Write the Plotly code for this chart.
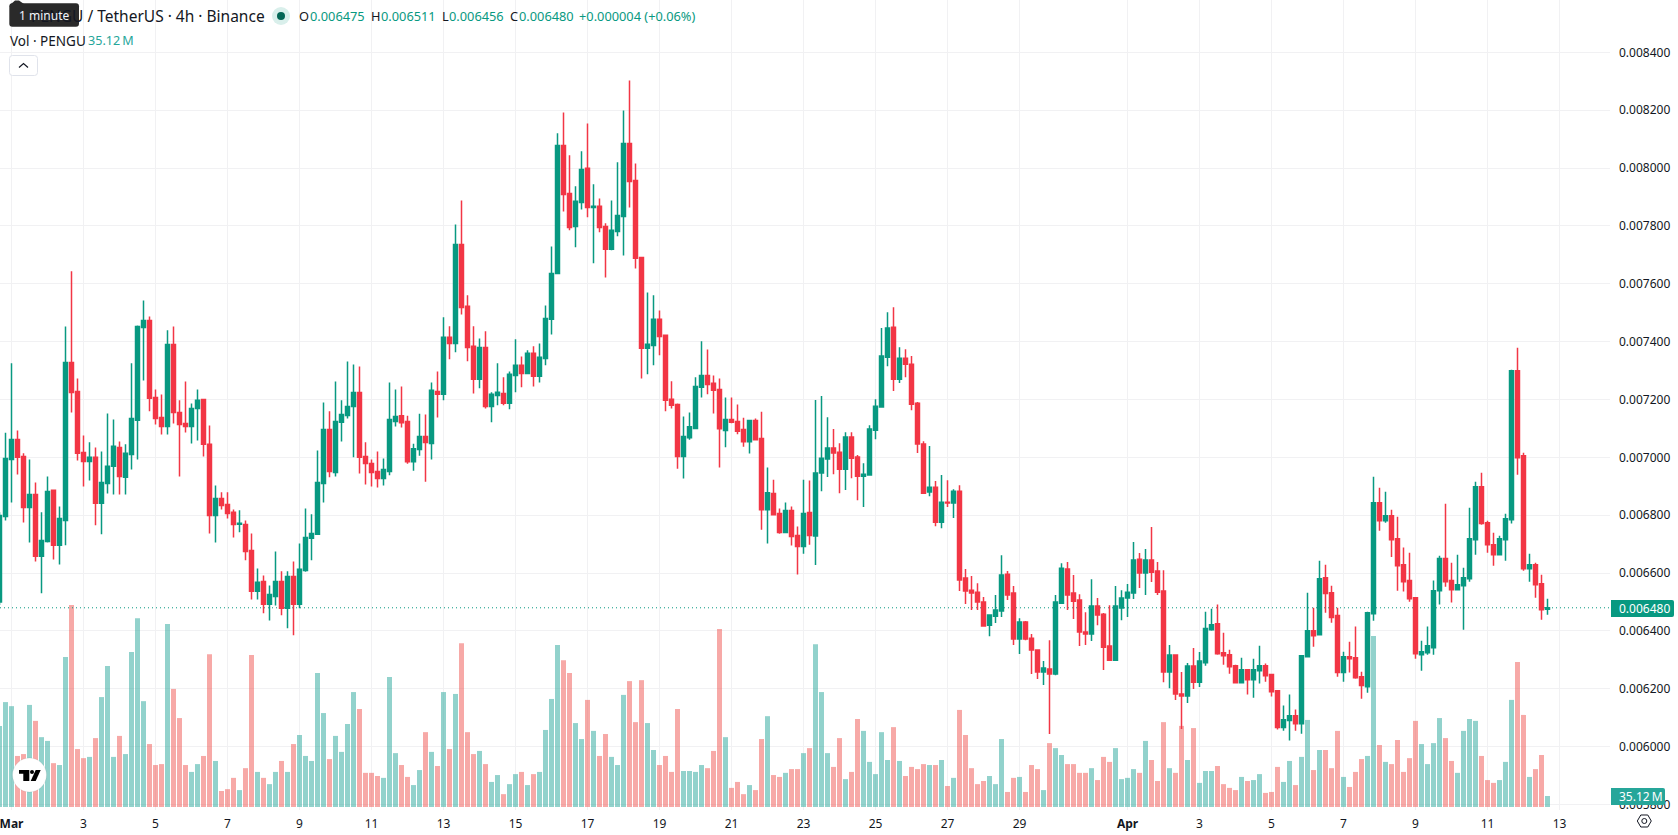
import pandas as pd
import plotly.graph_objects as go

# 4h PENGU/USDT candles; prices are in millionths of USDT
OPEN = [
    6500,6796,6993,7062,7003,6827,6872,6658,6709,6886,6696,6782,7328,7228,7017,6986,7000,6841,6910,6969,7034,6931,7010,7128,7449,7473,7207,7138,7107,7390,7155,7117,7107,7169,7200,7045,6799,6858,6837,6810,6769,6768,6678,6537,6571,6492,6519,6571,6478,6588,6492,6609,6720,6734,6910,7096,6948,7121,7145,7176,7224,7003,6979,6951,6927,6951,7124,
    7144,7124,6985,7027,7072,7048,7228,7218,7415,7394,7736,7522,7384,7270,7380,7176,7214,7221,7187,7283,7318,7290,7360,7280,7342,7477,7636,8078,7912,7798,7881,7999,7864,7868,7798,7719,7781,7833,8085,7957,7691,7377,7387,7477,7422,7201,7183,7003,7068,7100,7242,7283,7256,7235,7093,7131,7124,7096,7054,7127,7065,6819,6875,6806,6740,6816,6730,6692,6809,
    6728,6946,6994,7032,7018,6959,7070,7001,6935,6939,7094,7174,7346,7450,7270,7343,7322,7187,7046,6880,6897,6776,6845,6842,6883,6583,6541,6534,6500,6420,6451,6469,6596,6531,6372,6431,6375,6334,6258,6268,6251,6496,6614,6531,6507,6396,6389,6486,6458,6348,6299,6479,6514,6531,6648,6600,6645,6607,6538,6258,6317,6182,6175,6279,6223,
    6290,6404,6425,6325,6318,6280,6221,6266,6231,6262,6280,6249,6193,6066,6090,6107,6079,6311,6401,6387,6584,6532,6453,6256,6311,6307,6242,6207,6459,6843,6781,6798,6719,6629,6574,6515,6318,6325,6342,6539,6650,6574,6542,6556,6580,6715,6898,6774,6698,6663,6715,6784,7299,7006,6615,6629,6563,6475,
]
HIGH = [
    6810,7085,7325,7093,7014,6993,6913,6810,6934,6889,6830,7452,7643,7273,7076,7052,7034,7020,7152,7131,7055,7045,7325,7456,7542,7487,7235,7217,7439,7452,7197,7262,7186,7235,7200,7110,6903,6879,6879,6820,6817,6782,6737,6616,6592,6557,6675,6606,6606,6640,6702,6823,6803,7024,7190,7159,7262,7197,7331,7321,7314,7052,6993,7020,6996,7259,7235,
    7245,7144,7047,7151,7148,7259,7297,7484,7453,7805,7888,7560,7453,7411,7436,7225,7325,7277,7297,7408,7349,7370,7384,7394,7525,7729,8120,8192,8044,7937,8058,8154,7944,7895,7809,7888,8020,8199,8303,8016,7691,7570,7560,7508,7422,7263,7186,7141,7155,7277,7401,7373,7283,7273,7207,7207,7183,7137,7130,7134,7158,6965,6923,6823,6844,6830,6761,6923,6920,
    7198,7212,7139,7098,7049,7087,7087,7008,6980,7111,7201,7447,7502,7519,7381,7374,7350,7191,7056,7039,6918,6939,6921,6890,6904,6614,6590,6565,6517,6458,6524,6662,6607,6555,6444,6434,6389,6334,6296,6368,6524,6634,6638,6593,6527,6465,6579,6514,6462,6489,6555,6541,6562,6707,6669,6683,6759,6638,6610,6351,6317,6258,6289,6341,6327,
    6466,6477,6491,6394,6335,6283,6307,6266,6304,6349,6287,6252,6193,6142,6180,6128,6314,6532,6480,6643,6629,6556,6480,6328,6363,6415,6259,6466,6933,6895,6881,6819,6795,6688,6670,6515,6366,6415,6574,6660,6840,6636,6663,6618,6826,6916,6947,6781,6739,6729,6805,7303,7379,7016,6667,6636,6594,6511,
]
LOW = [
    6490,6782,6844,6941,6775,6706,6640,6530,6706,6647,6630,6696,7155,6989,6899,6920,6765,6734,6875,6872,6872,6872,6958,6993,7266,7159,7114,7079,7079,7117,6934,7086,7048,7058,7003,6737,6706,6820,6789,6723,6741,6644,6509,6509,6461,6436,6488,6454,6409,6385,6478,6605,6644,6734,6844,6931,6934,7055,7134,7000,6944,6906,6899,6896,6903,6938,7107,
    7103,6978,6954,7006,6916,6993,7138,7197,7339,7363,7494,7332,7221,7239,7169,7121,7180,7180,7166,7225,7242,7290,7245,7259,7318,7425,7633,7850,7785,7726,7857,7830,7671,7778,7622,7716,7764,7698,7864,7653,7273,7287,7318,7353,7159,7169,6961,6927,7061,7100,7207,7218,7152,6965,7035,7118,7080,7037,7013,7058,6750,6702,6802,6736,6740,6695,6595,6667,6698,
    6628,6883,6932,6942,6876,6887,6928,6852,6828,6939,7063,7174,7315,7229,7257,7277,7163,7015,6873,6866,6762,6755,6828,6790,6538,6493,6472,6472,6417,6382,6427,6448,6507,6351,6320,6368,6251,6234,6213,6044,6247,6496,6472,6441,6348,6351,6365,6420,6265,6299,6299,6437,6448,6510,6548,6524,6569,6524,6223,6202,6161,6061,6151,6199,6206,
    6280,6401,6318,6283,6252,6218,6218,6180,6169,6218,6224,6173,6059,6055,6021,6055,6045,6311,6345,6387,6463,6428,6242,6224,6256,6235,6166,6186,6435,6746,6774,6656,6539,6536,6501,6304,6262,6318,6318,6491,6553,6498,6542,6404,6570,6663,6767,6670,6625,6663,6643,6771,6940,6608,6570,6515,6439,6456,
]
CLOSE = [
    6799,6996,7062,7000,6827,6872,6658,6713,6882,6696,6789,7328,7224,7014,6986,7000,6841,6913,6969,7038,6934,7014,7134,7452,7473,7204,7134,7107,7390,7155,7114,7107,7169,7197,7045,6799,6858,6834,6806,6768,6772,6675,6537,6568,6492,6526,6571,6478,6588,6492,6613,6723,6737,6913,7096,6951,7124,7148,7176,7224,7000,6979,6948,6927,6958,7131,7141,
    7120,6985,7030,7072,7051,7232,7218,7415,7394,7736,7518,7380,7270,7380,7176,7218,7225,7187,7287,7318,7290,7360,7280,7346,7480,7636,8078,7909,7795,7885,7995,7864,7868,7795,7719,7785,7836,8085,7954,7688,7377,7391,7477,7418,7197,7180,7003,7072,7106,7245,7283,7252,7232,7099,7131,7121,7090,7054,7127,7061,6819,6878,6802,6740,6816,6726,6692,6806,6730,
    6946,6997,7032,7015,6959,7070,6997,6935,6942,7098,7177,7350,7447,7270,7343,7322,7184,7046,6876,6897,6776,6845,6842,6883,6576,6538,6531,6500,6417,6455,6472,6593,6524,6372,6431,6372,6334,6258,6272,6251,6500,6617,6524,6503,6396,6389,6486,6455,6344,6299,6486,6514,6534,6645,6600,6645,6603,6534,6258,6317,6182,6175,6279,6223,6296,
    6408,6421,6321,6314,6276,6221,6266,6231,6266,6280,6245,6190,6066,6093,6107,6079,6314,6401,6383,6580,6529,6446,6256,6311,6304,6238,6211,6463,6843,6781,6798,6715,6625,6570,6511,6321,6328,6349,6539,6650,6570,6542,6560,6584,6719,6898,6771,6698,6663,6719,6788,7299,6999,6615,6629,6560,6473,6480,
]
# Traded volume per candle, millions of PENGU
VOLUME = [
    259,335,322,163,169,326,275,223,211,140,134,479,645,185,156,160,220,351,450,160,227,169,495,603,338,201,134,137,584,377,284,134,112,137,163,488,147,51,57,93,54,124,485,112,93,73,112,147,112,201,230,163,147,428,300,153,227,176,265,367,313,109,109,99,93,415,172,
    134,96,70,118,239,176,131,367,185,361,523,239,169,179,137,80,102,41,73,105,112,70,105,112,246,345,517,469,428,268,217,342,243,163,233,160,134,358,402,271,405,268,182,134,163,112,313,115,115,112,134,124,179,568,223,61,80,41,70,54,217,290,102,96,109,121,121,
    172,188,520,367,172,128,220,89,112,281,243,144,105,239,150,255,147,99,128,121,137,134,134,150,67,93,310,230,124,73,83,99,73,217,48,93,96,48,134,121,54,204,188,166,137,137,109,109,124,86,160,144,188,89,93,121,109,211,150,83,271,124,109,259,150,252,77,
    115,115,131,73,61,54,96,83,86,105,45,48,128,80,147,70,160,278,118,182,182,124,243,96,64,112,153,163,546,198,144,137,214,112,156,275,201,137,204,284,220,147,109,243,281,275,163,86,77,86,144,342,463,294,96,121,166,35.12,
]
FIRST_CANDLE = "2025-02-28 16:00"
LAST_PRICE = 0.006480

PRICE_TICKS = [0.0058, 0.0060, 0.0062, 0.0064, 0.0066, 0.0068, 0.0070, 0.0072,
               0.0074, 0.0076, 0.0078, 0.0080, 0.0082, 0.0084]
DATE_TICKS = ["2025-03-01", "2025-03-03", "2025-03-05", "2025-03-07", "2025-03-09", "2025-03-11",
              "2025-03-13", "2025-03-15", "2025-03-17", "2025-03-19", "2025-03-21", "2025-03-23",
              "2025-03-25", "2025-03-27", "2025-03-29", "2025-04-01", "2025-04-03", "2025-04-05",
              "2025-04-07", "2025-04-09", "2025-04-11", "2025-04-13"]
DATE_LABELS = ["<b>Mar</b>", "3", "5", "7", "9", "11", "13", "15", "17", "19", "21", "23",
               "25", "27", "29", "<b>Apr</b>", "3", "5", "7", "9", "11", "13"]

UP, DOWN = "#089981", "#F23645"
VOL_UP, VOL_DOWN = "rgba(38,166,154,0.5)", "rgba(239,83,80,0.5)"
INK = "#131722"
FONT = "Noto Sans"

# Plot frame in page pixels
PLOT_W, PLOT_H = 1610, 810
PRICE_RANGE = [0.005781, 0.008581]
VOLUME_RANGE = [-9.6, 2577]

assert len(OPEN) == len(HIGH) == len(LOW) == len(CLOSE) == len(VOLUME)
times = pd.date_range(FIRST_CANDLE, periods=len(OPEN), freq="4h")
x_range = [pd.Timestamp("2025-03-01") - pd.Timedelta(hours=7.67),
           pd.Timestamp("2025-03-01") + pd.Timedelta(hours=1065.67)]


def px(x):
    return x / PLOT_W


def py(y):
    return 1 - y / PLOT_H


def path(points, close=True):
    cmds = [f"{'M' if i == 0 else 'L'}{px(x):.5f},{py(y):.5f}" for i, (x, y) in enumerate(points)]
    return " ".join(cmds) + (" Z" if close else "")


def box(x0, y0, x1, y1, r=2, r_left=None):
    rl = r if r_left is None else r_left
    return (f"M{px(x0 + rl):.5f},{py(y0):.5f} L{px(x1 - r):.5f},{py(y0):.5f} "
            f"Q{px(x1):.5f},{py(y0):.5f} {px(x1):.5f},{py(y0 + r):.5f} "
            f"L{px(x1):.5f},{py(y1 - r):.5f} Q{px(x1):.5f},{py(y1):.5f} {px(x1 - r):.5f},{py(y1):.5f} "
            f"L{px(x0 + rl):.5f},{py(y1):.5f} Q{px(x0):.5f},{py(y1):.5f} {px(x0):.5f},{py(y1 - rl):.5f} "
            f"L{px(x0):.5f},{py(y0 + rl):.5f} Q{px(x0):.5f},{py(y0):.5f} {px(x0 + rl):.5f},{py(y0):.5f} Z")


def filled(d, color, line=None, width=0):
    return dict(type="path", xref="paper", yref="paper", path=d, fillcolor=color,
                line=dict(color=line or color, width=width), layer="above")


def circle(cx, cy, r, color, line=None, width=0):
    return dict(type="circle", xref="paper", yref="paper", x0=px(cx - r), x1=px(cx + r),
                y0=py(cy + r), y1=py(cy - r), fillcolor=color,
                line=dict(color=line or color, width=width), layer="above")


def label(x, y, text, color=INK, size=13, anchor="left"):
    return dict(xref="paper", yref="paper", x=px(x), y=py(y), text=text, showarrow=False,
                xanchor=anchor, yanchor="middle", borderpad=0,
                font=dict(family=FONT, size=size, color=color))


fig = go.Figure()

fig.add_trace(go.Bar(
    x=times, y=VOLUME, yaxis="y",
    marker=dict(color=[VOL_UP if c >= o else VOL_DOWN for o, c in zip(OPEN, CLOSE)], line_width=0),
    hoverinfo="skip",
))

# Last-price line sits over the volume bars and under the candles
fig.add_trace(go.Scatter(
    x=x_range, y=[LAST_PRICE, LAST_PRICE], yaxis="y2", mode="lines",
    line=dict(color=UP, width=1, dash="1px,3px"), hoverinfo="skip",
))

fig.add_trace(go.Candlestick(
    x=times, yaxis="y3",
    open=[v / 1e6 for v in OPEN], high=[v / 1e6 for v in HIGH],
    low=[v / 1e6 for v in LOW], close=[v / 1e6 for v in CLOSE],
    increasing=dict(line=dict(color=UP, width=1.5), fillcolor=UP),
    decreasing=dict(line=dict(color=DOWN, width=1.5), fillcolor=DOWN),
    whiskerwidth=0, hoverinfo="skip",
))

shapes = [
    # value tags on the price scale
    filled(box(1611, 600, 1674, 617, r=2, r_left=0.01), UP),
    filled(box(1611, 788, 1665, 805, r=2, r_left=0.01), "#26a69a"),
    # live-status dot
    circle(281, 16, 9, "#d9efeb"),
    circle(281, 16, 4, "#056656"),
    # collapse button
    filled(box(9.5, 55.5, 37.5, 75.5, r=3), "#ffffff", "#e0e3eb", 1),
    dict(type="path", xref="paper", yref="paper",
         path=path([(19, 67.5), (23.5, 63.5), (28, 67.5)], close=False),
         line=dict(color=INK, width=1.2), layer="above"),
    # tooltip over the symbol name
    filled(box(9.3, 3.3, 79, 26.7, r=3), "#2a2a2a"),
    filled(path([(11, 4), (15, 0.5), (19, 0.5), (24, 4)]), "#2a2a2a"),
    # logo badge
    circle(29.5, 775, 17, "#ffffff", "rgba(0,0,0,0.07)", 1),
    filled(path([(19, 770), (29.3, 770), (29.3, 781), (23.3, 781), (23.3, 773.7), (19, 773.7)]), "#000000"),
    circle(32, 771.9, 2, "#000000"),
    filled(path([(35.7, 770), (40.7, 770), (35.7, 781), (30.7, 781)]), "#000000"),
    # chart settings icon
    dict(type="path", xref="paper", yref="paper",
         path=path([(1637.3, 821), (1640.8, 815), (1647.8, 815), (1651.3, 821), (1647.8, 827), (1640.8, 827)]),
         line=dict(color=INK, width=1), layer="above"),
    dict(type="circle", xref="paper", yref="paper", x0=px(1641.8), x1=px(1646.8), y0=py(823.5), y1=py(818.5),
         line=dict(color=INK, width=1), layer="above"),
]

annotations = [
    label(29.5, 15.5, "PENGU / TetherUS · 4h · Binance", size=15.5),
    label(44, 15.5, "1 minute", color="#f0f3fa", size=12, anchor="center"),
    label(298, 16, "O", size=12.8),
    label(309, 16, "0.006475", color=UP, size=12.8),
    label(370, 16, "H", size=12.8),
    label(380, 16, "0.006511", color=UP, size=12.8),
    label(441, 16, "L", size=12.8),
    label(448, 16, "0.006456", color=UP, size=12.8),
    label(509, 16, "C", size=12.8),
    label(518, 16, "0.006480", color=UP, size=12.8),
    label(578, 16, "+0.000004 (+0.06%)", color=UP, size=12.8),
    label(9, 41, "Vol · PENGU", size=13.5),
    label(87, 41, "35.12\u2009M", color="#26a69a", size=12.6),
    label(1618, 608.5, "0.006480", color="#ffffff", size=12),
    label(1618, 796.5, "35.12\u2009M", color="#ffffff", size=12),
]

GRID = "#f1f1f3"
fig.update_layout(
    width=1678, height=835, autosize=False,
    margin=dict(l=0, r=68, t=0, b=25),
    paper_bgcolor="#ffffff", plot_bgcolor="#ffffff",
    showlegend=False, dragmode=False,
    bargap=0.167, boxgap=0.34, boxgroupgap=0,
    font=dict(family=FONT, size=12, color=INK),
    xaxis=dict(
        type="date", range=x_range, rangeslider=dict(visible=False),
        tickmode="array", tickvals=DATE_TICKS, ticktext=DATE_LABELS,
        showgrid=True, gridcolor=GRID, gridwidth=1, showline=False, zeroline=False, ticks="",
        ticklabeloverflow="allow", ticklabelstandoff=5,
        tickfont=dict(family=FONT, size=12, color=INK),
    ),
    yaxis=dict(range=VOLUME_RANGE, visible=False, showgrid=False, zeroline=False),
    yaxis2=dict(range=PRICE_RANGE, overlaying="y", visible=False, showgrid=False, zeroline=False),
    yaxis3=dict(
        range=PRICE_RANGE, overlaying="y", side="right", anchor="x",
        tickmode="array", tickvals=PRICE_TICKS, tickformat=".6f", ticks="", ticklabelstandoff=8,
        showgrid=True, gridcolor=GRID, gridwidth=1, showline=False, zeroline=False,
        tickfont=dict(family=FONT, size=12, color=INK),
    ),
    shapes=shapes, annotations=annotations,
)

fig.write_html("out.html", config=dict(displayModeBar=False, responsive=False))
